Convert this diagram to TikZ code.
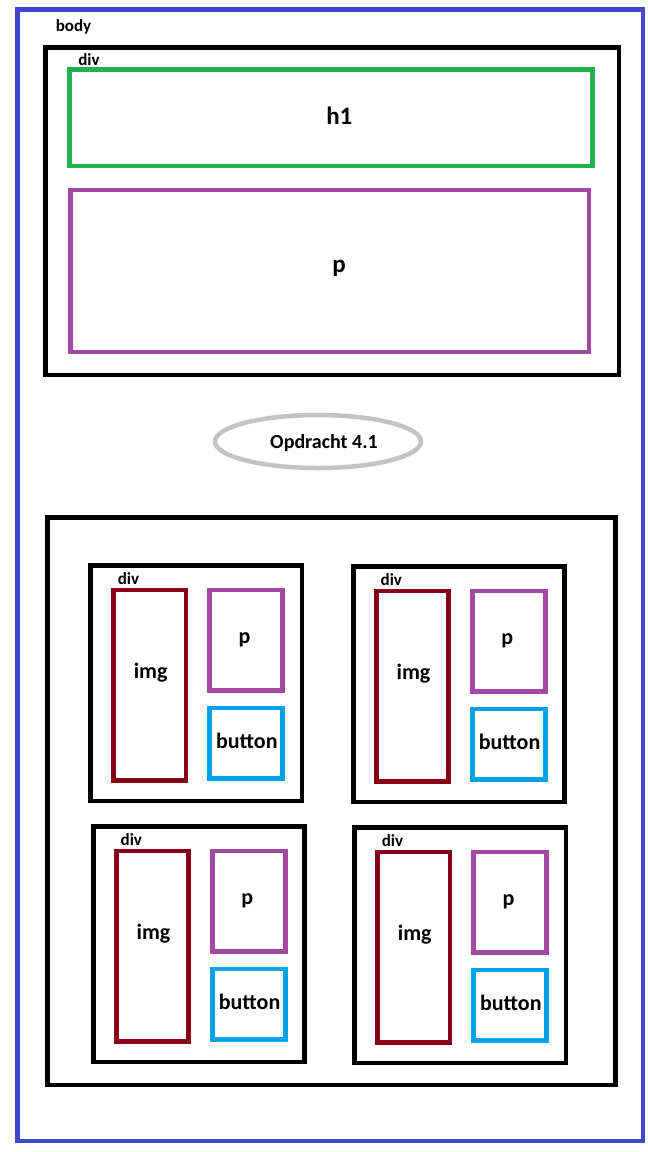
\documentclass[tikz,border=0pt]{standalone}
\usepackage{fontspec}
\setmainfont{Carlito}
\usetikzlibrary{shapes.geometric}

\definecolor{bodyblue}{HTML}{3F48CC}
\definecolor{hgreen}{HTML}{22B14C}
\definecolor{ppurple}{HTML}{A349A4}
\definecolor{imgred}{HTML}{880015}
\definecolor{btnblue}{HTML}{00A2E8}
\definecolor{ovalgray}{HTML}{C3C3C3}

\begin{document}
\begin{tikzpicture}[x=1pt,y=-1pt,
    box/.style 2 args={draw, line width=4.8pt, minimum width=#1, minimum height=#2, inner sep=0pt, outer sep=0pt, anchor=north west},
    lbl/.style={inner sep=0pt, font=\bfseries\fontsize{17}{20}\selectfont},
    txt/.style={inner sep=0pt, font=\bfseries\fontsize{22}{26}\selectfont}]
        \fill[white](0,0)rectangle(648,1152);
        \useasboundingbox(0,0)rectangle(648,1152);

        % body
        \node[box={625.5pt}{1131.5pt}, draw=bodyblue](body) at (17.5,9.5){};
        \node[lbl](bodylbl) at (73.5,26.5){body};

        % bovenste div
        \node[box={573.2pt}{327.5pt}](divtop) at (45.8,47.5){};
        \node[lbl](divtoplbl) at (89,59.5){div};
        \node[box={522.7pt}{96.5pt}, draw=hgreen](h1box) at (69.8,69.5){};
        \node[inner sep=0pt, font=\bfseries\fontsize{25}{30}\selectfont](h1) at (339.3,116){h1};
        \node[box={518.5pt}{162pt}, draw=ppurple](pbox) at (70.5,190){};
        \node[inner sep=0pt, font=\bfseries\fontsize{25}{30}\selectfont](ptop) at (339,268){p};

        % ovaal
        \node[draw=ovalgray, line width=4.5pt, ellipse, minimum width=206pt, minimum height=53pt, inner sep=0pt](oval) at (318,441.5){};
        \node[inner sep=0pt, font=\bfseries\fontsize{20}{24}\selectfont](opdracht) at (324,443){Opdracht 4.1};

        % onderste div met vier kaarten
        \node[box={568pt}{567.5pt}](divbottom) at (47.5,517.5){};
        \foreach \cx/\cy/\n in {90.5/565.5/a, 353.3/566.5/b, 93.3/826.5/c, 354.5/827.5/d}{
            \node[box={211.5pt}{235.5pt}](div\n) at (\cx,\cy){};
            \node[lbl](divlbl\n) at (\cx+38,\cy+13){div};
            \node[box={72.5pt}{190.5pt}, draw=imgred](img\n) at (\cx+23,\cy+24.5){};
            \node[txt](imgtxt\n) at (\cx+60.2,\cy+107.6){img};
            \node[box={73pt}{100.5pt}, draw=ppurple](p\n) at (\cx+119,\cy+24.5){};
            \node[txt](ptxt\n) at (\cx+154,\cy+74){p};
            \node[box={73pt}{70.5pt}, draw=btnblue](btn\n) at (\cx+119,\cy+142.5){};
            \node[txt](btntxt\n) at (\cx+156.3,\cy+175){button};
        }
    \end{tikzpicture}
\end{document}
